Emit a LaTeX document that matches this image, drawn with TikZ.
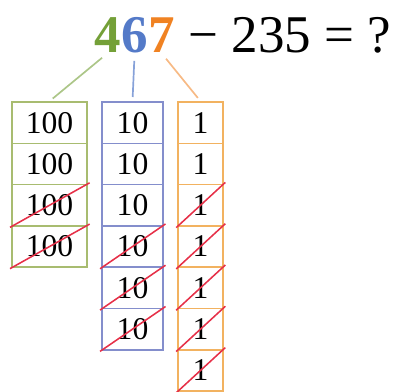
\documentclass[tikz,border=0pt]{standalone}
\usepackage{fontspec}
\setmainfont{Liberation Serif}
\definecolor{hgreen}{RGB}{116,160,56}
\definecolor{tblue}{RGB}{84,122,200}
\definecolor{uorange}{RGB}{240,130,34}
\definecolor{hgreenbox}{RGB}{168,188,112}
\definecolor{tbluebox}{RGB}{132,142,204}
\definecolor{uorangebox}{RGB}{242,178,96}
\definecolor{strikered}{RGB}{230,48,72}
\usetikzlibrary{positioning}

\begin{document}
\begin{tikzpicture}[x=0.025cm,y=-0.025cm,
    digit/.style={inner sep=0pt, anchor=base, font=\fontsize{37.7}{40}\selectfont},
    cell/.style={draw, line width=1.1pt, inner sep=0pt, minimum height=1.0325cm, font=\fontsize{22.5}{24}\selectfont},
    link/.style={line width=1.2pt, shorten <=5pt, shorten >=3pt},
    strike/.style={draw=strikered, line width=1.1pt, shorten <=-1pt, shorten >=-1.5pt}]
  \useasboundingbox (0,0) rectangle (393,392);

  % Subtraction
  \node[digit, text=hgreen, font=\fontsize{37.7}{40}\selectfont\bfseries] (d4) at (107.5,53) {4};
  \node[digit, anchor=base west, text=tblue, font=\fontsize{37.7}{40}\selectfont\bfseries] (d6) at (d4.base east) {6};
  \node[digit, anchor=base west, text=uorange, font=\fontsize{37.7}{40}\selectfont\bfseries] (d7) at (d6.base east) {7};
  \node[digit, anchor=base west] (rest) at (d7.base east) {\ − 235 = ?};

  % Hundreds
  \foreach \i in {1,...,4}
    \node[cell, draw=hgreenbox, minimum width=1.875cm] (g\i) at (49.5,{102+41.3*(\i-0.5)}) {100};

  % Tens
  \foreach \i in {1,...,6}
    \node[cell, draw=tbluebox, minimum width=1.525cm] (b\i) at (132.5,{102+41.3*(\i-0.5)}) {10};

  % Ones
  \foreach \i in {1,...,7}
    \node[cell, draw=uorangebox, minimum width=1.125cm] (o\i) at (200.5,{102+41.3*(\i-0.5)}) {1};

  % Links
  \draw[link, draw=hgreen!60] (d4.south) -- (g1.north);
  \draw[link, draw=tblue!70] (d6.south) -- (b1.north);
  \draw[link, draw=uorange!55] (d7.south) -- (o1.north);

  % Crossed out
  \foreach \i in {3,4}
    \draw[strike] (g\i.south west) -- (g\i.north east);
  \foreach \i in {4,5,6}
    \draw[strike] (b\i.south west) -- (b\i.north east);
  \foreach \i in {3,...,7}
    \draw[strike] (o\i.south west) -- (o\i.north east);
\end{tikzpicture}
\end{document}
